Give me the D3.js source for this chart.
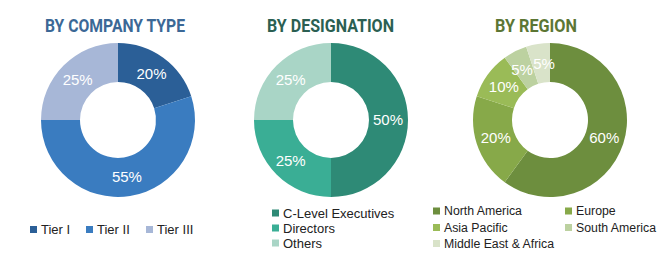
<!DOCTYPE html>
<html>
<head>
<meta charset="utf-8">
<script src="https://cdn.jsdelivr.net/npm/d3@7"></script>
<style>
  body { margin: 0; background: #fff; }
  svg { display: block; }
</style>
</head>
<body>
<div id="chart"></div>
<script>
// data
var companyLabels = ['Tier I', 'Tier II', 'Tier III'];
var companyValues = [20, 55, 25];
var designationLabels = ['C-Level Executives', 'Directors', 'Others'];
var designationValues = [50, 25, 25];
var regionLabels = ['North America', 'Europe', 'Asia Pacific', 'South America', 'Middle East & Africa'];
var regionValues = [60, 20, 10, 5, 5];

var W = 665, H = 271;
var svg = d3.select('#chart').append('svg')
    .attr('width', W)
    .attr('height', H);

var titleFont = '"Liberation Sans Narrow", "Roboto", sans-serif';
var textFont = '"Liberation Sans", Arial, sans-serif';

function donut(opts) {
    var g = svg.append('g');
    var pie = d3.pie().sort(null).value(function (d) { return d; });
    var arcs = pie(opts.values);
    var arc = d3.arc().innerRadius(38).outerRadius(77);
    var labelArc = d3.arc().innerRadius(57).outerRadius(57);

    // condensed bold title, squeezed to the reference width
    g.append('text')
        .attr('x', opts.titleX)
        .attr('y', 32)
        .attr('text-anchor', 'middle')
        .attr('font-family', titleFont)
        .attr('font-weight', 'bold')
        .attr('font-size', 18.5)
        .attr('textLength', opts.titleW)
        .attr('lengthAdjust', 'spacingAndGlyphs')
        .attr('fill', opts.titleColor)
        .text(opts.title);

    var pg = g.append('g').attr('transform', 'translate(' + opts.cx + ',' + opts.cy + ')');
    pg.selectAll('path')
        .data(arcs)
        .enter()
        .append('path')
        .attr('d', arc)
        .attr('fill', function (d, i) { return opts.colors[i]; });

    pg.selectAll('text')
        .data(arcs)
        .enter()
        .append('text')
        .attr('transform', function (d) {
            var c = labelArc.centroid(d);
            return 'translate(' + (c[0] + (opts.labelDx ? opts.labelDx[d.index] : 0)) + ',' + c[1] + ')';
        })
        .attr('text-anchor', 'middle')
        .attr('dy', '0.36em')
        .attr('font-family', textFont)
        .attr('font-size', 15)
        .attr('fill', '#fff')
        .text(function (d) { return d.data + '%'; });

    var lg = g.selectAll('g.legend')
        .data(opts.labels)
        .enter()
        .append('g')
        .attr('transform', function (d, i) { return 'translate(' + opts.legendPos[i][0] + ',' + opts.legendPos[i][1] + ')'; });
    lg.append('rect')
        .attr('x', 0)
        .attr('y', -3.5)
        .attr('width', 7)
        .attr('height', 7)
        .attr('fill', function (d, i) { return opts.colors[i]; });
    lg.append('text')
        .attr('x', opts.textGap)
        .attr('dy', '0.36em')
        .attr('font-family', textFont)
        .attr('font-size', opts.legendSize)
        .attr('fill', '#222')
        .text(function (d) { return d; });
}

donut({
    title: 'BY COMPANY TYPE', titleX: 115, titleW: 140, titleColor: '#3b6896',
    cx: 118, cy: 120,
    values: companyValues, labels: companyLabels,
    colors: ['#2b5f97', '#3a7cc0', '#a7b7d7'],
    legendSize: 13, textGap: 11,
    legendPos: [[30, 229.5], [86, 229.5], [146, 229.5]]
});

donut({
    title: 'BY DESIGNATION', titleX: 330.5, titleW: 127, titleColor: '#2b5f52',
    cx: 331, cy: 120,
    values: designationValues, labels: designationLabels,
    colors: ['#2e8a76', '#3aae95', '#a9d5c6'],
    legendSize: 13, textGap: 11,
    legendPos: [[272, 213], [272, 228], [272, 243]]
});

donut({
    title: 'BY REGION', titleX: 536, titleW: 82, titleColor: '#5c7634',
    cx: 550, cy: 120,
    values: regionValues, labels: regionLabels,
    colors: ['#6d8e3e', '#87a949', '#9abb57', '#bcd1a0', '#d9e3c9'],
    labelDx: [0, 0, 0, -2, 3],
    legendSize: 12.3, textGap: 11,
    legendPos: [[433, 211], [565, 211], [433, 227.5], [565, 227.5], [433, 243.5]]
});
</script>
</body>
</html>
